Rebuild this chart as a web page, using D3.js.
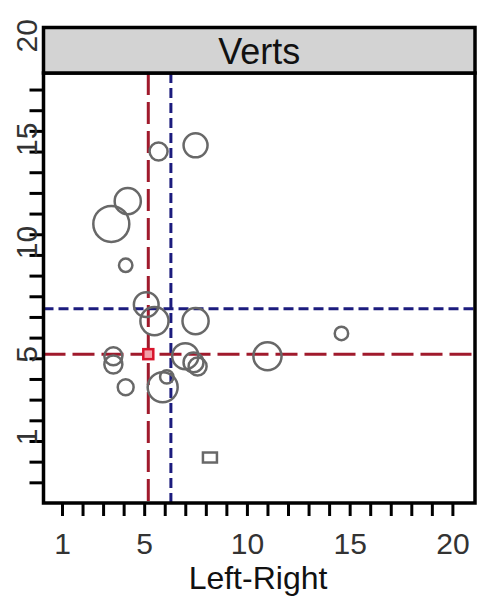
<!DOCTYPE html>
<html>
<head>
<meta charset="utf-8">
<script src="https://cdn.jsdelivr.net/npm/d3@7/dist/d3.min.js"></script>
<style>
  html, body { margin: 0; padding: 0; background: #fff; }
  svg { display: block; }
  text { font-family: "Liberation Sans", Arial, sans-serif; }
</style>
</head>
<body>
<svg id="chart" width="495" height="605"></svg>
<script>
// Panel title
const panelTitle = "Verts";
const xTitle = "Left-Right";

// Observations: left-right position, vertical position, weight (bubble area)
const pointX = [5.7, 7.5, 4.2, 3.4, 4.1, 5.1, 5.5, 7.5, 3.5, 3.5, 4.1, 7.0, 7.4, 7.6, 5.9, 6.1, 11.0, 14.6];
const pointY = [17.0, 17.3, 14.6, 13.5, 11.5, 9.6, 8.8, 8.8, 7.1, 6.7, 5.6, 7.1, 6.8, 6.6, 5.6, 6.1, 7.1, 8.2];
const pointW = [9, 16, 19, 36, 5, 17, 22, 19, 9, 9, 7, 19, 11, 9, 25, 5, 22, 5];

// Square-marked observation
const squareX = [8.2];
const squareY = [2.2];

// Reference lines
const medianX = 5.2, medianY = 7.2;   // red
const meanX = 6.3, meanY = 9.4;       // blue

// Axis ticks
const tickValues = d3.range(1, 21);
const labelledTicks = [1, 5, 10, 15, 20];

const svg = d3.select("#chart");

const box = { left: 43.5, right: 475, top: 73, bottom: 503, stripTop: 27.5 };

const x = d3.scaleLinear().domain([0.1, 21.1]).range([box.left, box.right]);
const y = d3.scaleLinear().domain([0, 20.8]).range([box.bottom, box.top]);
const r = d3.scaleSqrt().domain([0, 36]).range([0, 18]);

const plot = svg.append("g");

// Reference lines
const red = "#a01a2c", blue = "#1c1c7e";
plot.append("line")
  .attr("x1", x(medianX)).attr("x2", x(medianX))
  .attr("y1", box.top).attr("y2", box.bottom)
  .attr("stroke", red).attr("stroke-width", 3).attr("stroke-dasharray", "22,7");
plot.append("line")
  .attr("x1", box.left).attr("x2", box.right)
  .attr("y1", y(medianY)).attr("y2", y(medianY))
  .attr("stroke", red).attr("stroke-width", 3).attr("stroke-dasharray", "22,7");
plot.append("line")
  .attr("x1", x(meanX)).attr("x2", x(meanX))
  .attr("y1", box.top).attr("y2", box.bottom)
  .attr("stroke", blue).attr("stroke-width", 3).attr("stroke-dasharray", "10,5");
plot.append("line")
  .attr("x1", box.left).attr("x2", box.right)
  .attr("y1", y(meanY)).attr("y2", y(meanY))
  .attr("stroke", blue).attr("stroke-width", 3).attr("stroke-dasharray", "10,5");

// Bubbles
const pts = pointX.map((v, i) => ({ x: v, y: pointY[i], w: pointW[i] }));
plot.selectAll("circle.pt")
  .data(pts)
  .join("circle")
  .attr("class", "pt")
  .attr("cx", d => x(d.x))
  .attr("cy", d => y(d.y))
  .attr("r", d => r(d.w))
  .attr("fill", "none")
  .attr("stroke", "#686868")
  .attr("stroke-width", 2.5);

// Square marker
plot.selectAll("rect.sq")
  .data(squareX.map((v, i) => ({ x: v, y: squareY[i] })))
  .join("rect")
  .attr("class", "sq")
  .attr("x", d => x(d.x) - 7)
  .attr("y", d => y(d.y) - 5)
  .attr("width", 14).attr("height", 10)
  .attr("fill", "none")
  .attr("stroke", "#686868")
  .attr("stroke-width", 2.5);

// Median crossing marker
plot.append("rect")
  .attr("x", x(medianX) - 5).attr("y", y(medianY) - 5)
  .attr("width", 10).attr("height", 10)
  .attr("fill", "#f2a0a8")
  .attr("stroke", "#d8142c")
  .attr("stroke-width", 2.5);

// X axis
const xAxis = d3.axisBottom(x)
  .tickValues(tickValues)
  .tickSize(13)
  .tickSizeOuter(0)
  .tickFormat(d => labelledTicks.includes(d) ? d : "");
const gx = svg.append("g")
  .attr("transform", `translate(0,${box.bottom})`)
  .call(xAxis);
gx.select(".domain").remove();
gx.selectAll(".tick line").attr("stroke", "#000").attr("stroke-width", 3);
gx.selectAll(".tick text")
  .attr("y", 0).attr("dy", 0)
  .attr("transform", "translate(0,51)")
  .attr("font-size", 30)
  .attr("fill", "#333")
  .attr("font-family", "Liberation Sans, Arial, sans-serif");

// Y axis
const yAxis = d3.axisLeft(y)
  .tickValues(tickValues)
  .tickSize(14)
  .tickSizeOuter(0)
  .tickFormat("");
const gy = svg.append("g")
  .attr("transform", `translate(${box.left},0)`)
  .call(yAxis);
gy.select(".domain").remove();
gy.selectAll(".tick line").attr("stroke", "#000").attr("stroke-width", 3);

svg.append("g").selectAll("text")
  .data(labelledTicks)
  .join("text")
  .attr("transform", d => `translate(37,${y(d) - 37}) rotate(-90)`)
  .attr("text-anchor", "start")
  .attr("font-size", 30)
  .attr("fill", "#333")
  .text(d => d);

// Frame
svg.append("rect")
  .attr("x", box.left).attr("y", box.top)
  .attr("width", box.right - box.left).attr("height", box.bottom - box.top)
  .attr("fill", "none").attr("stroke", "#000").attr("stroke-width", 3.5);

// Panel strip
svg.append("rect")
  .attr("x", box.left).attr("y", box.stripTop)
  .attr("width", box.right - box.left).attr("height", box.top - box.stripTop)
  .attr("fill", "#d3d3d3").attr("stroke", "#000").attr("stroke-width", 3.5);
svg.append("text")
  .attr("x", (box.left + box.right) / 2)
  .attr("y", 64)
  .attr("text-anchor", "middle")
  .attr("font-size", 36)
  .attr("fill", "#111")
  .text(panelTitle);

// X title
svg.append("text")
  .attr("x", 258)
  .attr("y", 589)
  .attr("text-anchor", "middle")
  .attr("font-size", 32)
  .attr("fill", "#111")
  .text(xTitle);
</script>
</body>
</html>
